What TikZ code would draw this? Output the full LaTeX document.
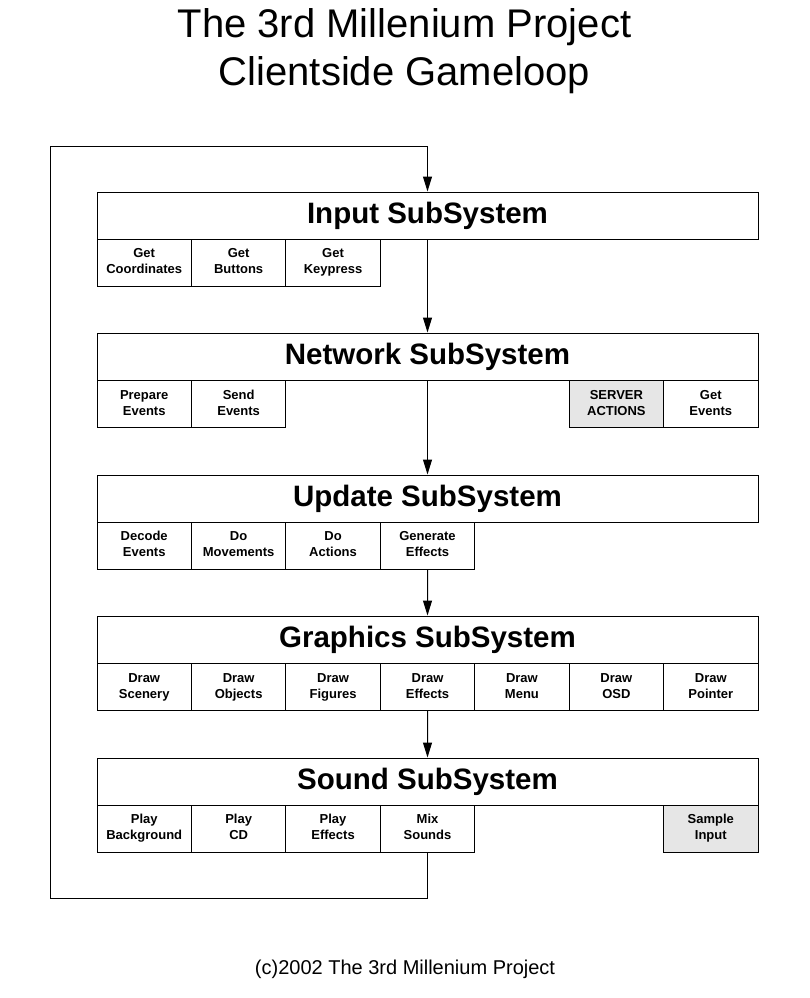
\documentclass[tikz,border=0pt]{standalone}
\usepackage{fontspec}
\setmainfont{Liberation Sans}
\usetikzlibrary{arrows.meta}
\definecolor{grayfill}{HTML}{E6E6E6}
\newcommand\twoline[2]{\raisebox{-2pt}{\begin{tabular}{@{}c@{}}#1\\#2\end{tabular}}}
\tikzset{
  bigbox/.style={draw, line width=1pt, minimum width=661pt, minimum height=47pt, inner sep=0pt, font=\fontsize{29.5}{34}\selectfont\bfseries},
  subbox/.style={draw, line width=1pt, minimum width=94.43pt, minimum height=47pt, inner sep=0pt, font=\fontsize{13}{16}\selectfont\bfseries},
  graybox/.style={subbox, fill=grayfill},
  arr/.style={line width=1pt, -{Triangle[width=9pt,length=15pt]}},
}
\begin{document}
\begin{tikzpicture}[x=1pt,y=-1pt]
\useasboundingbox (0,0) rectangle (809,998);
\node[font=\fontsize{40}{48}\selectfont, align=center] (title) at (404.5,51.5) {The 3rd Millenium Project\\Clientside Gameloop};
\node[font=\fontsize{20}{24}\selectfont] (foot) at (405,969.5) {(c)2002 The 3rd Millenium Project};
% columns
\def\cx#1{97+(#1-0.5)*94.43}
% Input
\node[bigbox] (inp) at (427.5,215.5) {Input SubSystem};
\node[subbox] (i1) at ({\cx1},262.5) {\twoline{Get}{Coordinates}};
\node[subbox] (i2) at ({\cx2},262.5) {\twoline{Get}{Buttons}};
\node[subbox] (i3) at ({\cx3},262.5) {\twoline{Get}{Keypress}};
% Network
\node[bigbox] (net) at (427.5,356.5) {Network SubSystem};
\node[subbox] (n1) at ({\cx1},404) {\twoline{Prepare}{Events}};
\node[subbox] (n2) at ({\cx2},404) {\twoline{Send}{Events}};
\node[graybox] (n6) at ({\cx6},404) {\twoline{SERVER}{ACTIONS}};
\node[subbox] (n7) at ({\cx7},404) {\twoline{Get}{Events}};
% Update
\node[bigbox] (upd) at (427.5,498.5) {Update SubSystem};
\node[subbox] (u1) at ({\cx1},545.5) {\twoline{Decode}{Events}};
\node[subbox] (u2) at ({\cx2},545.5) {\twoline{Do}{Movements}};
\node[subbox] (u3) at ({\cx3},545.5) {\twoline{Do}{Actions}};
\node[subbox] (u4) at ({\cx4},545.5) {\twoline{Generate}{Effects}};
% Graphics
\node[bigbox] (gfx) at (427.5,639.5) {Graphics SubSystem};
\node[subbox] (g1) at ({\cx1},687) {\twoline{Draw}{Scenery}};
\node[subbox] (g2) at ({\cx2},687) {\twoline{Draw}{Objects}};
\node[subbox] (g3) at ({\cx3},687) {\twoline{Draw}{Figures}};
\node[subbox] (g4) at ({\cx4},687) {\twoline{Draw}{Effects}};
\node[subbox] (g5) at ({\cx5},687) {\twoline{Draw}{Menu}};
\node[subbox] (g6) at ({\cx6},687) {\twoline{Draw}{OSD}};
\node[subbox] (g7) at ({\cx7},687) {\twoline{Draw}{Pointer}};
% Sound
\node[bigbox] (snd) at (427.5,781.5) {Sound SubSystem};
\node[subbox] (s1) at ({\cx1},828.5) {\twoline{Play}{Background}};
\node[subbox] (s2) at ({\cx2},828.5) {\twoline{Play}{CD}};
\node[subbox] (s3) at ({\cx3},828.5) {\twoline{Play}{Effects}};
\node[subbox] (s4) at ({\cx4},828.5) {\twoline{Mix}{Sounds}};
\node[graybox] (s7) at ({\cx7},828.5) {\twoline{Sample}{Input}};
% connectors
\draw[arr] (inp.south) -- (net.north);
\draw[arr] (net.south) -- (upd.north);
\draw[arr] (u4.south) -- (gfx.north);
\draw[arr] (g4.south) -- (snd.north);
\coordinate (lb) at (50,898.5);
\coordinate (lt) at (50,146.5);
\draw[arr] (s4.south) |- (lb) -- (lt) -| (inp.north);
\end{tikzpicture}
\end{document}
